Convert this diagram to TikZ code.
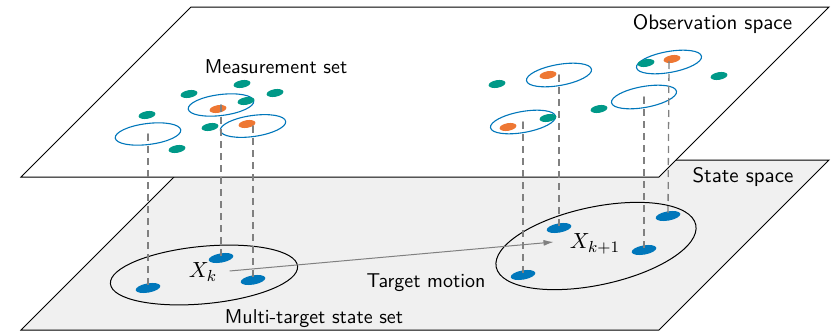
\documentclass[tikz,border=0pt]{standalone}
\usetikzlibrary{arrows.meta,shapes.geometric}
\definecolor{tblue}{HTML}{0077BB}
\definecolor{tteal}{HTML}{009988}
\definecolor{torange}{HTML}{EE7733}
\definecolor{planegray}{HTML}{F0F0F0}
\definecolor{dashgray}{HTML}{808080}
\begin{document}
\begin{tikzpicture}[x=0.5pt,y=-0.5pt,
  font=\sffamily\fontsize{10}{12}\selectfont,
  plane/.style={draw=black, line width=0.5pt},
  gate/.style={ellipse, draw=tblue, line width=0.55pt, inner sep=0pt, minimum width=33pt, minimum height=10.5pt},
  meas/.style={ellipse, fill=#1, inner sep=0pt, minimum width=8.5pt, minimum height=3.8pt, rotate=10},
  sdot/.style={ellipse, fill=tblue, inner sep=0pt, minimum width=12.5pt, minimum height=4.6pt, rotate=10},
  bigset/.style={ellipse, draw=black, line width=0.5pt, inner sep=0pt},
  proj/.style={draw=dashgray, line width=0.65pt, dash pattern=on 3.5pt off 2.5pt},
  cdot/.style={circle, fill=dashgray, inner sep=0pt, minimum size=0.9pt},
  motion/.style={draw=dashgray, line width=0.5pt, -{Latex[length=5pt,width=3pt]}},
  lbl/.style={inner sep=0pt},
  spacelbl/.style={inner sep=0pt, font=\sffamily\fontsize{10.5}{12}\selectfont}]
\useasboundingbox (0,0) rectangle (831,332);
% planes
\coordinate (sA) at (191,160); \coordinate (sB) at (829,160);
\coordinate (sC) at (659,330); \coordinate (sD) at (21,330);
\filldraw[plane, fill=planegray] (sA) -- (sB) -- (sC) -- (sD) -- cycle;
\coordinate (oA) at (191,7); \coordinate (oB) at (829,7);
\coordinate (oC) at (659,177); \coordinate (oD) at (21,177);
\filldraw[plane, fill=white] (oA) -- (oB) -- (oC) -- (oD) -- cycle;
% labels
\node[spacelbl] (obs) at (712.5,24) {Observation space};
\node[spacelbl] (sts) at (743,177) {State space};
\node[lbl] (mset) at (276,67) {Measurement set};
\node[lbl] (mts) at (314,319) {Multi-target state set};
\node[lbl] (tm) at (426,283) {Target motion};
% big sets
\node[bigset, minimum width=94pt, minimum height=28.7pt, rotate=5.4] (E1) at (204,275) {};
\node[bigset, minimum width=102pt, minimum height=39pt, rotate=12] (E2) at (596,246) {};
% state dots
\node[sdot] (s1) at (148,288) {};
\node[sdot] (s2) at (221,258) {};
\node[sdot] (s3) at (253,280) {};
\node[sdot] (r1) at (523,275) {};
\node[sdot] (r2) at (559,228) {};
\node[sdot] (r3) at (644,250) {};
\node[sdot] (r4) at (668,216) {};
% set labels and motion
\node[inner sep=1pt, font=\fontsize{11}{13}\selectfont] (xk) at (203,272) {$X_k$};
\node[inner sep=1pt, font=\fontsize{11}{13}\selectfont] (xk1) at (595,244) {$X_{k+1}$};
\draw[motion] ([xshift=5pt,yshift=0.5pt]xk.east) -- ([xshift=-7pt,yshift=1pt]xk1.west);
% gates
\node[gate, rotate=7] (g1) at (148,134) {};
\node[gate, rotate=7] (g2) at (221,105) {};
\node[gate, rotate=8] (g3) at (253,126) {};
\node[gate, rotate=10] (g4) at (559,75) {};
\node[gate, rotate=10] (g5) at (523,122) {};
\node[gate, rotate=10] (g6) at (644,97) {};
\node[gate, rotate=10] (g7) at (669,62) {};
% measurements
\node[meas=tteal] (c1) at (147,115) {};
\node[meas=tteal] (c2) at (189,94) {};
\node[meas=tteal] (c3) at (242,84) {};
\node[meas=tteal] (c4) at (275,93) {};
\node[meas=tteal] (c5) at (246,101) {};
\node[meas=tteal] (c6) at (210,127) {};
\node[meas=tteal] (c7) at (177,149) {};
\node[meas=tteal] (c8) at (497,84) {};
\node[meas=tteal] (c9) at (548,118) {};
\node[meas=tteal] (c10) at (599,109) {};
\node[meas=tteal] (c11) at (646,63) {};
\node[meas=tteal] (c12) at (719,76) {};
\node[meas=torange] (m1) at (218,109) {};
\node[meas=torange] (m2) at (247,124) {};
\node[meas=torange] (m3) at (548,75) {};
\node[meas=torange] (m4) at (508,127) {};
\node[meas=torange] (m5) at (672,59) {};
% gate centres
\foreach \g in {g1,g2,g3,g4,g5,g6,g7} \node[cdot] at (\g.center) {};
% projections
\draw[proj] (g1.center) -- (s1.center);
\draw[proj] (g2.center) -- (s2.center);
\draw[proj] (g3.center) -- (s3.center);
\draw[proj] (g5.center) -- (r1.center);
\draw[proj] (g4.center) -- (r2.center);
\draw[proj] (g6.center) -- (r3.center);
\draw[proj] (g7.center) -- (r4.center);
\end{tikzpicture}
\end{document}
